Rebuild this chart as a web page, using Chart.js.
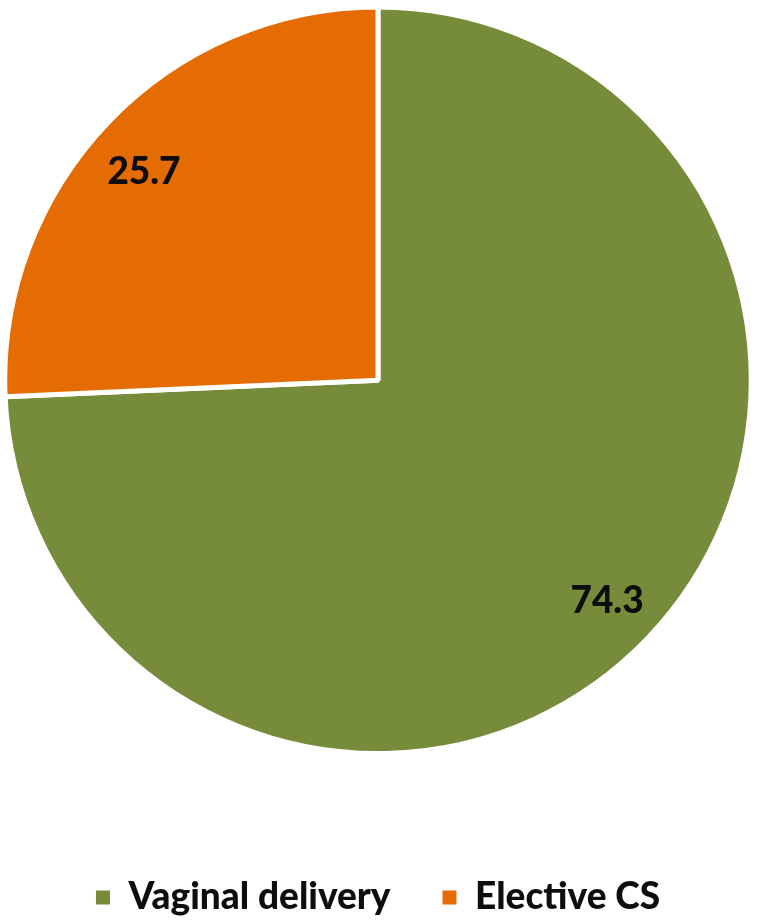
<!DOCTYPE html>
<html>
<head>
<meta charset="utf-8">
<script src="https://cdn.jsdelivr.net/npm/chart.js@4"></script>
<style>
  body { margin: 0; background: #fff; }
</style>
</head>
<body>
<canvas id="deliveryChart" width="758" height="921"></canvas>
<script>
const categories = ["Vaginal delivery", "Elective CS"];
const percentages = [74.3, 25.7];
const sliceColors = ["#778C3A", "#E56B03"];

// draws the value inside each slice (small nudge per slice to match the original placement)
const labelNudge = [[0, 2], [-5, 11]];
const sliceLabels = {
  id: "sliceLabels",
  afterDatasetsDraw(chart) {
    const ctx = chart.ctx;
    const meta = chart.getDatasetMeta(0);
    ctx.save();
    ctx.font = "900 37px Lato";
    ctx.fillStyle = "#0d0d0d";
    ctx.textAlign = "center";
    ctx.textBaseline = "middle";
    meta.data.forEach((arc, i) => {
      const p = arc.getProps(["x", "y", "startAngle", "endAngle", "outerRadius"], true);
      const mid = (p.startAngle + p.endAngle) / 2;
      const r = (p.outerRadius - 2.5) * 0.855;
      ctx.fillText(percentages[i].toFixed(1),
        p.x + Math.cos(mid) * r + labelNudge[i][0],
        p.y + Math.sin(mid) * r + labelNudge[i][1]);
    });
    ctx.restore();
  }
};

const ctx = document.getElementById("deliveryChart").getContext("2d");
const chart = new Chart(ctx, {
  type: "pie",
  data: {
    labels: categories,
    datasets: [{
      data: percentages,
      backgroundColor: sliceColors,
      borderColor: "#fff",
      borderWidth: 5
    }]
  },
  options: {
    responsive: false,
    animation: false,
    layout: { padding: { top: 4.5, left: 2, right: 4, bottom: -5 } },
    plugins: {
      tooltip: { enabled: false },
      legend: {
        position: "bottom",
        title: { display: true, text: " ", font: { size: 10 }, padding: { top: 59, bottom: 0 } },
        labels: {
          boxWidth: 14,
          boxHeight: 14,
          padding: 52,
          color: "#0d0d0d",
          font: { family: "Lato", size: 37, weight: "900" },
          generateLabels(chart) {
            // plain filled squares, no white outline
            return Chart.overrides.pie.plugins.legend.labels.generateLabels(chart).map(item => {
              item.lineWidth = 0;
              item.strokeStyle = item.fillStyle;
              return item;
            });
          }
        }
      }
    }
  },
  plugins: [sliceLabels]
});
</script>
</body>
</html>
